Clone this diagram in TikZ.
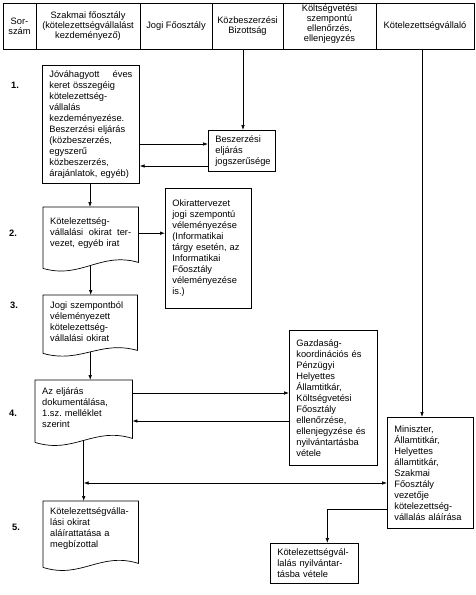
\documentclass[tikz,border=0pt]{standalone}
\usepackage{fontspec}
\setmainfont{Liberation Sans}
\usetikzlibrary{arrows.meta,calc}
\frenchspacing
\newcommand\docoutline[4]{% name, left extra, right extra, amplitude
  \draw[ln] ($(#1.south west)+(0,#2)$) -- (#1.north west) -- (#1.north east) -- ($(#1.south east)+(0,#3)$)
    .. controls ($(#1.south east)!0.4!(#1.south west)+(0,{#3/2+#2/2-#4})$)
           and ($(#1.south east)!0.6!(#1.south west)+(0,{#3/2+#2/2+#4})$)
    .. ($(#1.south west)+(0,#2)$);
  \coordinate (#1w) at ($(#1.south)+(0,{(#2+#3)/2})$);
}
\begin{document}
\begin{tikzpicture}[x=1pt,y=-1pt,
  ln/.style={line width=0.7pt},
  arr/.style={ln,-{Latex[length=5pt,width=3.6pt]}},
  dblarr/.style={ln,{Latex[length=5pt,width=3.6pt]}-{Latex[length=5pt,width=3.6pt]}},
  base/.style={font=\fontsize{9.3}{11}\selectfont, align=left, anchor=north west, inner xsep=7pt, inner ysep=2pt},
  box/.style={base, draw, ln},
  doc/.style={base},
  head/.style={font=\fontsize{9.3}{10}\selectfont, align=center, inner sep=0pt},
  num/.style={font=\fontsize{9.3}{11}\selectfont\bfseries, inner sep=0pt}]
\useasboundingbox (0,0) rectangle (476,595);
% header table
\draw[ln] (3,3) rectangle (474,49);
\foreach \xx in {36,140,212,283,376} \draw[ln] (\xx,3) -- (\xx,49);
\node[head] (h1) at (19.5,26) {Sor-\\szám};
\node[head] (h2) at (88,26) {Szakmai főosztály\\(kötelezettségvállalást\\kezdeményező)};
\node[head] (h3) at (176,26) {Jogi Főosztály};
\node[head] (h4) at (247.5,26) {Közbeszerzési\\Bizottság};
\node[head] (h5) at (329.5,24) {Költségvetési\\szempontú\\ellenőrzés,\\ellenjegyzés};
\node[head] (h6) at (425,26) {Kötelezettségvállaló};
% row numbers
\node[num] (n1) at (15,85) {1.};
\node[num] (n2) at (13,233) {2.};
\node[num] (n3) at (14,305) {3.};
\node[num] (n4) at (13,413) {4.};
\node[num] (n5) at (16,527) {5.};
% boxes
\node[box, text width=83pt, minimum height=118pt] (b1) at (42,65)
  {Jóváhagyott\hfill éves\\keret összegéig\\kötelezettség-\\vállalás\\kezdeményezése.\\Beszerzési eljárás\\(közbeszerzés,\\egyszerű\\közbeszerzés,\\árajánlatok, egyéb)};
\node[box, text width=53pt, minimum height=41pt] (besz) at (208,130)
  {Beszerzési\\eljárás\\jogszerűsége};
\node[doc, text width=81pt, minimum height=52pt] (b2) at (43,207)
  {Kötelezettség-\\vállalási\hfill okirat\hfill ter-\\vezet, egyéb irat};
\node[box, text width=72pt, minimum height=120pt] (okir) at (165,188)
  {Okirattervezet\\jogi szempontú\\véleményezése\\(Informatikai\\tárgy esetén, az\\Informatikai\\Főosztály\\véleményezése\\is.)};
\node[doc, text width=80pt, minimum height=52pt] (b3) at (43,295)
  {Jogi szempontból\\véleményezett\\kötelezettség-\\vállalási okirat};
\node[doc, text width=83pt, minimum height=54pt] (b4) at (35,380)
  {Az eljárás\\dokumentálása,\\1.sz. melléklet\\szerint};
\node[box, text width=74pt, minimum height=135pt] (gaz) at (289,330)
  {Gazdaság-\\koordinációs és\\Pénzügyi\\Helyettes\\Államtitkár,\\Költségvetési\\Főosztály\\ellenőrzése,\\ellenjegyzése és\\nyilvántartásba\\vétele};
\node[box, text width=72pt, minimum height=111pt] (min) at (387,417)
  {Miniszter,\\Államtitkár,\\Helyettes\\államtitkár,\\Szakmai\\Főosztály\\vezetője\\kötelezettség-\\vállalás aláírása};
\node[doc, text width=81pt, minimum height=54pt] (b5) at (43,501)
  {Kötelezettségválla-\\lási okirat\\aláírattatása a\\megbízottal};
\node[box, text width=74pt, minimum height=40pt] (b6) at (270,543)
  {Kötelezettségvál-\\lalás nyilvántar-\\tásba vétele};
\docoutline{b2}{9}{3}{14}
\docoutline{b3}{6}{3}{12}
\docoutline{b4}{8}{4}{14}
\docoutline{b5}{12}{8}{14}
% connectors
\coordinate (kbtop) at (243,49);
\coordinate (kvtop) at (422,49);
\draw[arr] (kbtop) -- (kbtop |- besz.north);
\draw[arr] (b1.east |- 0,144) -- (besz.west |- 0,144);
\draw[arr] (besz.west |- 0,166) -- (b1.east |- 0,166);
\draw[arr] (b1.south -| 90,0) -- (b2.north -| 90,0);
\draw[arr] (b2.east) -- (okir.west |- b2.east);
\draw[arr] (b2w) -- (b2w |- b3.north);
\draw[arr] (b3w) -- (b3w |- b4.north);
\draw[arr] (b4.east |- 0,393) -- (gaz.west |- 0,393);
\draw[arr] (gaz.west |- 0,421) -- (b4.east |- 0,421);
\draw[arr] (kvtop) -- (kvtop |- min.north);
\coordinate (j) at (b4w |- 0,483);
\draw[arr] (b4w) -- (b4w |- b5.north);
\draw[dblarr] (j) -- (j -| min.west);
\draw[arr] (min.west |- 0,509) -| ($(b6.north)+(13,0)$);
\end{tikzpicture}
\end{document}
